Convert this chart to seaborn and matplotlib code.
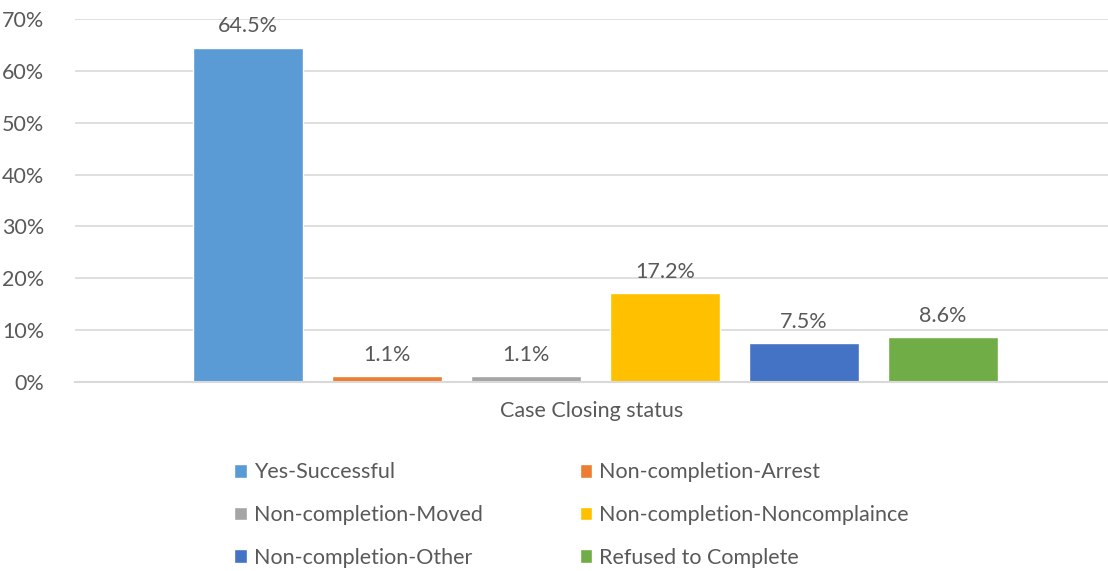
import pandas as pd
import matplotlib.pyplot as plt
import seaborn as sns

category = ["Case Closing status"]
statuses = ["Yes-Successful", "Non-completion-Arrest", "Non-completion-Moved",
            "Non-completion-Noncomplaince", "Non-completion-Other", "Refused to Complete"]
shares = [64.5, 1.1, 1.1, 17.2, 7.5, 8.6]
colors = ["#5B9BD5", "#ED7D31", "#A5A5A5", "#FFC000", "#4472C4", "#70AD47"]
yticks = [0, 10, 20, 30, 40, 50, 60, 70]

df = pd.DataFrame({"group": category * len(statuses), "status": statuses, "share": shares})

sns.set_style("white")
plt.rcParams["font.family"] = ["Lato", "DejaVu Sans"]
text_color = "#595959"
fs = 15.5

fig = plt.figure(figsize=(11.08, 5.71), dpi=100)
ax = fig.add_axes([75 / 1108, 1 - 382 / 571, 1 - 75 / 1108, (382 - 19) / 571])

sns.barplot(data=df, x="group", y="share", hue="status", hue_order=statuses,
            palette=colors, width=0.807, gap=0.21, ax=ax, saturation=1, legend=True)

for cont in ax.containers:
    ax.bar_label(cont, labels=[f"{v:.1f}%" for v in cont.datavalues], padding=8,
                 fontsize=fs, color=text_color)

ax.set_ylim(0, 70)
ax.set_xlim(-0.504, 0.496)
ax.set_yticks(yticks)
ax.set_yticklabels([f"{t}%" for t in yticks], fontsize=fs, color=text_color)
ax.tick_params(axis="y", length=0, pad=22)
ax.set_xticks([])
ax.set_xlabel("Case Closing status", fontsize=fs, color=text_color, labelpad=14)
ax.set_ylabel("")
ax.yaxis.grid(True, color="#D9D9D9", linewidth=1.2)
ax.set_axisbelow(True)
for s in ["top", "right", "left"]:
    ax.spines[s].set_visible(False)
ax.spines["bottom"].set_color("#D9D9D9")
ax.spines["bottom"].set_linewidth(1.5)

handles, labels = ax.get_legend_handles_labels()
ax.get_legend().remove()
order = [0, 2, 4, 1, 3, 5]
fig.legend([handles[i] for i in order], [labels[i] for i in order], ncol=2,
           loc="upper left", bbox_to_anchor=(215 / 1108, 1 - 443 / 571), frameon=False,
           fontsize=fs, labelcolor=text_color, handlelength=0.6, handleheight=0.6,
           handletextpad=0.3, columnspacing=4.5, labelspacing=1.05)

plt.savefig("out.png", dpi=100)
